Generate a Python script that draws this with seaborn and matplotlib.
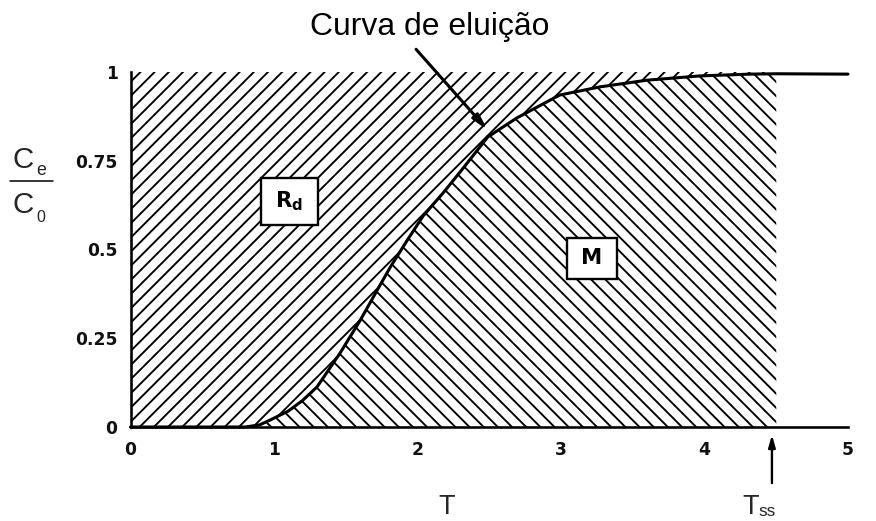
import matplotlib
matplotlib.use("Agg")
import matplotlib.pyplot as plt
from matplotlib.patches import Rectangle
from matplotlib.lines import Line2D
import numpy as np
import pandas as pd
import seaborn as sns

# Elution (breakthrough) curve: relative concentration Ce/C0 versus pore volumes T
t_values = [0.0, 0.8, 0.9, 0.975, 1.1, 1.2, 1.3, 1.46, 1.6, 1.72, 1.81, 1.93,
            2.04, 2.18, 2.3, 2.49, 2.69, 2.99, 3.27, 3.6, 3.97, 4.32, 4.5, 5.0]
c_values = [0.0, 0.0, 0.006, 0.02, 0.045, 0.075, 0.113, 0.208, 0.30, 0.386, 0.45, 0.527,
            0.595, 0.66, 0.72, 0.817, 0.87, 0.935, 0.958, 0.977, 0.989, 0.994, 0.995, 0.994]
t_ss = 4.5

x_ticks = [0, 1, 2, 3, 4, 5]
x_tick_labels = ["0", "1", "2", "3", "4", "5"]
y_ticks = [0, 0.25, 0.5, 0.75, 1]
y_tick_labels = ["0", "0.25", "0.5", "0.75", "1"]

region_labels = {"Rd": (1.107, 0.635), "M": (3.215, 0.475)}

sns.set_theme(style="white")
plt.rcParams["font.family"] = ["Liberation Sans", "DejaVu Sans"]
plt.rcParams["hatch.linewidth"] = 1.6

DPI = 85
fig = plt.figure(figsize=(876 / DPI, 521 / DPI), dpi=DPI)
ax = fig.add_axes([130.5 / 876, 1 - 427 / 521, (848 - 130.5) / 876, 355 / 521])

df = pd.DataFrame({"T": t_values, "C": c_values})
t = np.array(t_values)
c = np.array(c_values)
inside = t <= t_ss

# Hatched areas: retained fraction above the curve, eluted mass below it
ax.fill_between(t[inside], c[inside], 1.0, facecolor="none", edgecolor="black",
                linewidth=0, hatch="//", zorder=1)
ax.fill_between(t[inside], 0.0, c[inside], facecolor="none", edgecolor="black",
                linewidth=0, hatch="\\\\", zorder=1)

sns.lineplot(data=df, x="T", y="C", ax=ax, color="black", linewidth=2.6,
             zorder=3, clip_on=False)

ax.set_xlim(0, 5)
ax.set_ylim(0, 1)
ax.set_xticks(x_ticks)
ax.set_xticklabels(x_tick_labels)
ax.set_yticks(y_ticks)
ax.set_yticklabels(y_tick_labels)
ax.set_xlabel("")
ax.set_ylabel("")
for lbl in ax.get_xticklabels() + ax.get_yticklabels():
    lbl.set_fontfamily("DejaVu Sans")
    lbl.set_fontweight("bold")
    lbl.set_fontsize(14.5)
ax.tick_params(axis="both", which="major", direction="out", length=8, width=1.8,
               color="black", labelcolor="#111111")
ax.tick_params(axis="x", pad=4)
ax.tick_params(axis="y", pad=3)
for side in ("top", "right"):
    ax.spines[side].set_visible(False)
for side in ("left", "bottom"):
    ax.spines[side].set_color("black")
    ax.spines[side].set_linewidth(2.2)
ax.patch.set_alpha(0)

# Labelled boxes for the two regions
boxes = {"Rd": (0.909, 0.569, 0.397, 0.132), "M": (3.04, 0.417, 0.35, 0.115)}
texts = {"Rd": r"$\mathbf{R_d}$", "M": "M"}
for key, (bx, by, bw, bh) in boxes.items():
    ax.add_patch(Rectangle((bx, by), bw, bh, facecolor="white", edgecolor="black",
                           linewidth=2.0, zorder=4))
    cx, cy = region_labels[key]
    ax.text(cx, cy, texts[key], ha="center", va="center", fontsize=18,
            fontweight="bold", family="DejaVu Sans", color="black", zorder=5)

# Curve annotation
ax.annotate("", xy=(2.49, 0.836), xytext=(1.99, 1.064),
            arrowprops=dict(arrowstyle="-|>,head_length=0.9,head_width=0.22",
                            color="black", lw=2.6, shrinkA=0, shrinkB=0),
            annotation_clip=False, zorder=6)
fig.text(430 / 876, 1 - 35 / 521, "Curva de eluição", ha="center", va="baseline",
         fontsize=27, color="black")

# Steady-state marker below the axis
ax.annotate("", xy=(t_ss - 0.03, -0.022), xytext=(t_ss - 0.03, -0.158),
            arrowprops=dict(arrowstyle="-|>,head_length=0.7,head_width=0.2",
                            color="black", lw=2.0, shrinkA=0, shrinkB=0),
            annotation_clip=False)

# Axis names
fig.text(438 / 876, 1 - 514 / 521, "T", ha="left", va="baseline", fontsize=23)
fig.text(742 / 876, 1 - 514 / 521, "T", ha="left", va="baseline", fontsize=23)
fig.text(758 / 876, 1 - 516 / 521, "ss", ha="left", va="baseline", fontsize=14.5)

fig.text(12 / 876, 1 - 168 / 521, "C", ha="left", va="baseline", fontsize=25)
fig.text(36 / 876, 1 - 175 / 521, "e", ha="left", va="baseline", fontsize=15)
fig.add_artist(Line2D([10 / 876, 53 / 876], [1 - 180.5 / 521, 1 - 180.5 / 521],
                      color="black", linewidth=1.3, transform=fig.transFigure))
fig.text(12 / 876, 1 - 213 / 521, "C", ha="left", va="baseline", fontsize=25)
fig.text(36 / 876, 1 - 222 / 521, "0", ha="left", va="baseline", fontsize=13.5)

fig.savefig("out.png", dpi=DPI, facecolor="white")
